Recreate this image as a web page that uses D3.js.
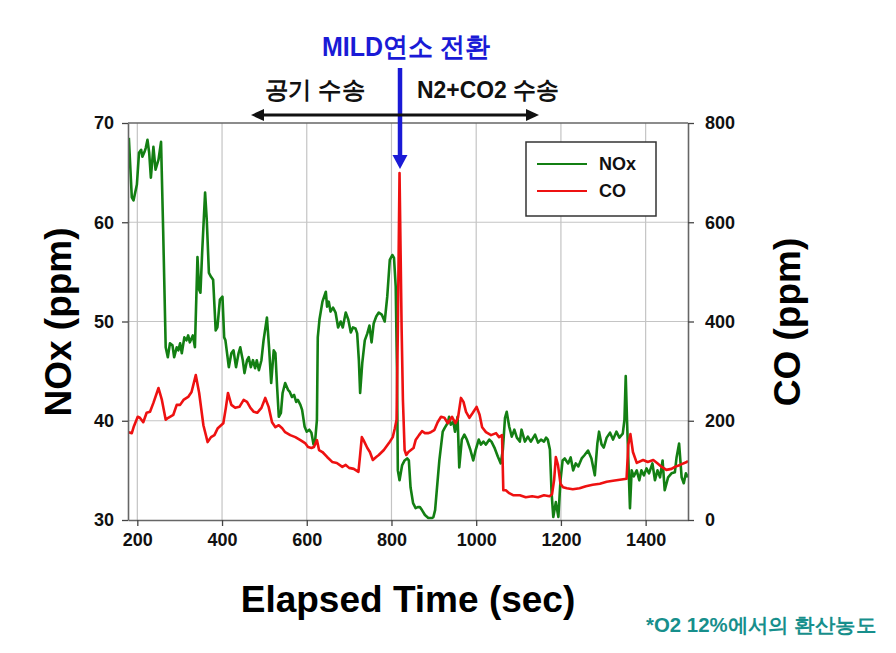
<!DOCTYPE html>
<html><head><meta charset="utf-8">
<script src="https://cdn.jsdelivr.net/npm/d3@7"></script>
<style>
html,body{margin:0;padding:0;background:#fff;}
svg text{font-family:"Liberation Sans",Arial,sans-serif;}
</style></head>
<body><svg id="c" width="896" height="653"></svg>
<script>
// ---- data ----
const noxTime = [180,187,191,199,204,209,212,217,220,224,228,232,238,243,250,256,261,267,272,277,283,287,293,297,301,305,311,316,320,324,331,336,342,346,349,353,360,364,369,374,379,385,389,395,401,405,408,416,422,427,433,439,443,449,453,459,463,468,473,478,482,487,493,498,506,511,516,522,526,530,534,539,543,549,556,560,565,570,575,579,585,589,595,600,606,611,616,620,624,626,630,637,645,648,652,656,662,668,674,680,685,692,698,704,709,715,719,723,726,731,737,743,748,753,758,764,770,777,784,790,796,802,806,810,813,815,819,825,831,837,841,845,851,857,862,867,872,879,887,895,899,903,907,913,921,926,933,936,940,946,950,956,960,966,972,978,986,993,999,1006,1011,1017,1023,1031,1036,1043,1051,1058,1063,1068,1072,1078,1084,1090,1096,1103,1107,1115,1122,1129,1139,1146,1153,1160,1165,1169,1174,1178,1182,1188,1194,1199,1204,1209,1217,1223,1229,1235,1241,1249,1255,1264,1272,1280,1286,1290,1296,1301,1308,1316,1323,1331,1338,1346,1350,1353,1356,1360,1363,1367,1372,1379,1385,1390,1396,1402,1408,1416,1422,1428,1434,1440,1445,1453,1461,1469,1473,1479,1485,1490,1495,1500];
const noxValues = [68.5,62.5,62.2,63.8,67.0,67.3,66.6,67.1,67.5,68.3,67.0,64.5,67.6,65.3,66.3,68.1,59.2,47.4,46.4,47.8,47.6,46.4,47.4,47.1,47.8,46.8,48.4,48.1,48.6,47.9,48.6,47.4,56.5,53.2,52.9,56.9,63.0,60.2,54.9,54.5,54.2,49.1,49.4,52.2,52.5,48.4,48.1,45.4,46.8,47.1,45.4,46.8,47.4,46.1,44.8,46.1,46.4,45.4,46.1,45.3,46.1,45.1,46.1,48.1,50.4,47.4,43.8,47.1,46.8,43.4,40.4,40.8,42.8,43.8,43.1,42.9,42.4,42.6,41.9,42.1,41.6,41.1,39.4,38.9,39.1,38.8,37.6,38.1,40.1,48.4,50.2,52.0,53.0,51.5,52.0,51.0,51.4,50.9,49.4,50.0,49.4,50.9,50.2,48.9,49.4,49.3,48.8,46.1,42.8,45.8,48.1,48.8,49.6,47.9,49.8,50.5,50.9,50.7,50.0,52.5,56.2,56.7,56.4,53.5,45.1,35.0,34.0,35.5,36.0,36.2,36.0,33.3,31.7,31.2,31.3,31.3,31.0,30.5,30.2,30.2,30.3,31.0,33.0,36.0,38.9,39.3,39.8,40.4,39.6,39.9,38.9,40.4,35.3,38.1,38.6,38.1,37.1,36.0,37.1,38.1,37.6,37.9,37.6,38.1,37.9,37.3,36.4,35.7,37.1,40.3,40.9,39.4,38.4,39.1,38.3,37.9,39.1,37.9,38.4,37.9,38.6,37.8,38.1,37.9,38.3,38.1,37.1,32.7,30.3,31.8,30.3,34.0,36.0,36.2,35.7,36.3,35.0,35.7,35.4,36.2,36.5,37.0,36.2,34.5,37.7,38.9,37.6,37.3,38.3,38.8,38.1,38.9,38.3,38.7,40.1,44.5,40.1,35.0,31.2,35.0,34.4,35.0,34.0,35.0,34.5,35.2,34.7,35.7,34.0,35.0,34.3,36.0,33.0,34.3,34.7,34.8,36.3,37.7,34.3,33.7,34.7,34.3];
const coTime = [180,187,192,201,206,214,222,230,238,250,258,267,273,285,293,301,309,320,328,338,346,356,366,374,382,390,403,409,414,422,431,441,451,459,467,475,483,493,502,510,518,526,534,542,549,561,573,585,596,603,611,617,624,629,637,648,660,671,684,692,700,711,722,726,730,734,743,749,756,764,770,782,794,803,808,812,815,819,824,827,831,835,840,846,852,857,865,872,879,886,893,901,909,917,925,933,943,951,957,964,970,976,984,992,1001,1008,1014,1023,1035,1047,1054,1061,1064,1070,1078,1087,1103,1117,1132,1146,1160,1173,1179,1184,1188,1193,1199,1205,1214,1228,1244,1259,1275,1292,1308,1323,1339,1355,1359,1364,1370,1379,1394,1405,1418,1427,1438,1449,1461,1469,1481,1497,1500];
const coValues = [177,175,189,208,206,197,216,218,236,266,242,202,206,212,232,232,242,248,258,292,256,191,157,167,171,185,195,226,256,232,226,228,242,238,226,218,216,226,246,228,197,187,191,185,177,171,167,161,155,147,145,147,161,141,137,127,117,115,107,111,105,103,97,131,167,161,145,137,121,127,131,141,155,167,185,202,383,699,383,242,141,131,137,141,145,161,171,179,175,175,177,181,197,208,206,195,208,195,206,246,238,218,206,216,228,212,187,177,171,175,167,171,60,60,54,50,50,46,48,46,50,48,52,81,127,111,73,66,64,62,64,68,71,73,77,79,81,83,151,173,137,115,121,117,121,115,107,101,103,107,111,117,119];
const xTicks = [200,400,600,800,1000,1200,1400];
const noxTicks = [30,40,50,60,70];
const coTicks = [0,200,400,600,800];
const seriesNames = ["NOx","CO"];
const seriesColors = ["#137f13","#ee1111"];

// ---- layout ----
const svg = d3.select("#c");
const L = 128, R = 688, T = 123, B = 520;
const x = d3.scaleLinear().domain([178,1500]).range([L,R]);
const yL = d3.scaleLinear().domain([30,70]).range([B,T]);
const yR = d3.scaleLinear().domain([0,800]).range([B,T]);

// grid
const g = svg.append("g");
g.selectAll(".vg").data(xTicks).join("line")
  .attr("x1",d=>x(d)).attr("x2",d=>x(d)).attr("y1",T).attr("y2",B)
  .attr("stroke","#c4c4c4").attr("stroke-width",1.2);
g.selectAll(".hg").data(noxTicks.slice(1,-1)).join("line")
  .attr("x1",L).attr("x2",R).attr("y1",d=>yL(d)).attr("y2",d=>yL(d))
  .attr("stroke","#c4c4c4").attr("stroke-width",1.2);

// clip
svg.append("clipPath").attr("id","pc").append("rect")
  .attr("x",L).attr("y",T-40).attr("width",R-L).attr("height",B-T+40);

const noxData = noxTime.map((t,i)=>[t,noxValues[i]]);
const coData = coTime.map((t,i)=>[t,coValues[i]]);

svg.append("path").datum(noxData)
  .attr("clip-path","url(#pc)")
  .attr("d",d3.line().x(d=>x(d[0])).y(d=>yL(Math.max(30,d[1]))))
  .attr("fill","none").attr("stroke",seriesColors[0]).attr("stroke-width",2.6)
  .attr("stroke-linejoin","round");
svg.append("path").datum(coData)
  .attr("clip-path","url(#pc)")
  .attr("d",d3.line().x(d=>x(d[0])).y(d=>yR(d[1])))
  .attr("fill","none").attr("stroke",seriesColors[1]).attr("stroke-width",2.6)
  .attr("stroke-linejoin","round");

// frame top
svg.append("line").attr("x1",L).attr("x2",R).attr("y1",T).attr("y2",T)
  .attr("stroke","#666").attr("stroke-width",1.5);

// axes
function styleAxis(sel){
  sel.selectAll("path").attr("stroke","#666").attr("stroke-width",1.6);
  sel.selectAll("line").attr("stroke","#444").attr("stroke-width",1.3);
  sel.selectAll("text").attr("font-size","18px").attr("font-weight","bold").attr("fill","#111")
    .attr("font-family","'Liberation Sans',Arial,sans-serif");
}
svg.append("g").attr("transform",`translate(0,${B})`)
  .call(d3.axisBottom(x).tickValues(xTicks).tickFormat(d3.format("d")).tickSize(6).tickSizeOuter(0).tickPadding(7))
  .call(styleAxis);
svg.append("g").attr("transform",`translate(${L},0)`)
  .call(d3.axisLeft(yL).tickValues(noxTicks).tickSize(6).tickSizeOuter(0).tickPadding(8))
  .call(styleAxis);
svg.append("g").attr("transform",`translate(${R},0)`)
  .call(d3.axisRight(yR).tickValues(coTicks).tickSize(6).tickSizeOuter(0).tickPadding(11))
  .call(styleAxis);

// axis titles
svg.append("text").attr("transform","translate(71,322) rotate(-90)")
  .attr("text-anchor","middle").attr("font-size","37px").attr("font-weight","bold").text("NOx (ppm)");
svg.append("text").attr("transform","translate(800,322) rotate(-90)")
  .attr("text-anchor","middle").attr("font-size","37px").attr("font-weight","bold").text("CO (ppm)");
svg.append("text").attr("x",408).attr("y",612)
  .attr("text-anchor","middle").attr("font-size","37px").attr("font-weight","bold").text("Elapsed Time (sec)");

// legend
const lg = svg.append("g");
lg.append("rect").attr("x",526).attr("y",142).attr("width",130).attr("height",74)
  .attr("fill","#fff").attr("stroke","#333").attr("stroke-width",1.5);
seriesNames.forEach((n,i)=>{
  const yy = 164 + i*27;
  lg.append("line").attr("x1",537).attr("x2",587).attr("y1",yy).attr("y2",yy)
    .attr("stroke",seriesColors[i]).attr("stroke-width",2.2);
  lg.append("text").attr("x",599).attr("y",yy+6).attr("font-size","18px")
    .attr("font-weight","bold").attr("fill","#111").text(n);
});

// annotations
const kfont = "'Noto Sans CJK KR','Noto Sans',sans-serif";
svg.append("text").attr("x",322).attr("y",56).attr("font-family",kfont)
  .attr("font-size","27px").attr("font-weight","bold").attr("fill","#1a1ad6")
  .attr("textLength",168).attr("lengthAdjust","spacingAndGlyphs").text("MILD연소 전환");
svg.append("line").attr("x1",400).attr("x2",400).attr("y1",68).attr("y2",157)
  .attr("stroke","#1a1ad6").attr("stroke-width",4.5);
svg.append("path").attr("d","M392.5,155 L407.5,155 L400,169 Z").attr("fill","#1a1ad6");

svg.append("text").attr("x",265).attr("y",98).attr("font-family",kfont)
  .attr("font-size","24px").attr("font-weight","bold").attr("fill","#111")
  .attr("textLength",100).attr("lengthAdjust","spacingAndGlyphs").text("공기 수송");
svg.append("text").attr("x",417).attr("y",98).attr("font-family",kfont)
  .attr("font-size","24px").attr("font-weight","bold").attr("fill","#111")
  .attr("textLength",142).attr("lengthAdjust","spacingAndGlyphs").text("N2+CO2 수송");
// double arrow
svg.append("line").attr("x1",262).attr("x2",528).attr("y1",115).attr("y2",115)
  .attr("stroke","#111").attr("stroke-width",3.2);
svg.append("path").attr("d","M251,115 L264,109 L264,121 Z").attr("fill","#111");
svg.append("path").attr("d","M539,115 L526,109 L526,121 Z").attr("fill","#111");

svg.append("text").attr("x",646).attr("y",632).attr("font-family",kfont)
  .attr("font-size","20px").attr("font-weight","bold").attr("fill","#178f8c")
  .attr("textLength",230).attr("lengthAdjust","spacingAndGlyphs").text("*O2 12%에서의 환산농도");
</script></body></html>
